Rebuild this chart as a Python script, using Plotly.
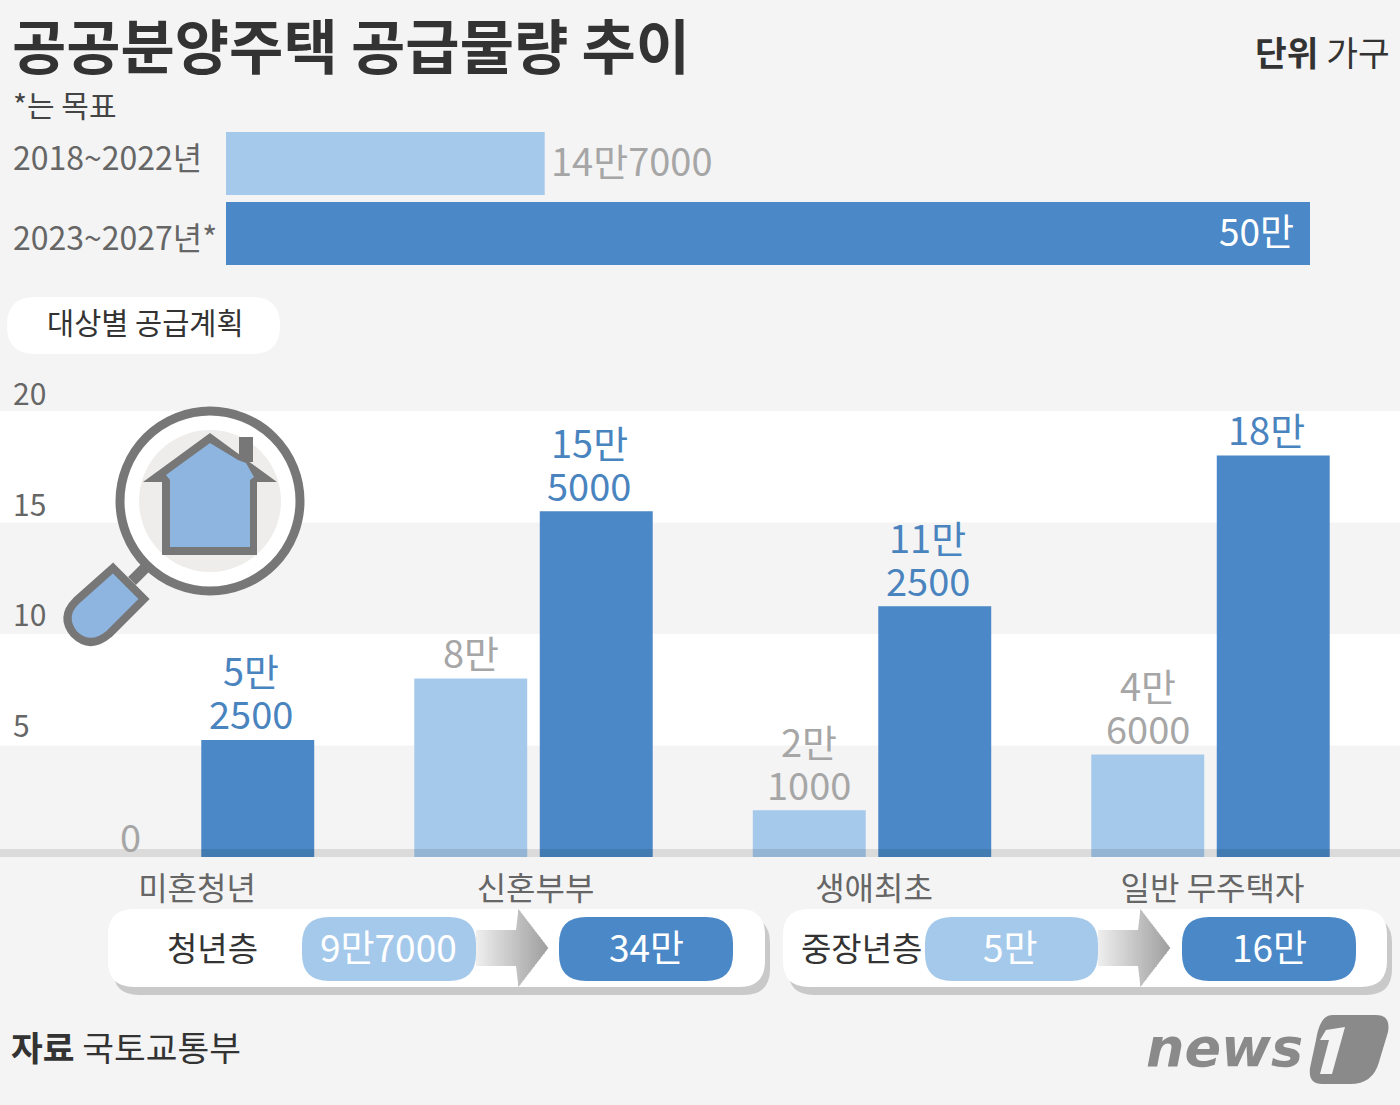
import plotly.graph_objects as go

# supply totals (households)
period_labels = ['2018~2022년', '2023~2027년*']
period_values = [147000, 500000]
period_text = ['14만7000', '50만']

# plan by target group (unit: 10 thousand households)
groups = ['미혼청년', '신혼부부', '생애최초', '일반 무주택자']
before_values = [None, 8, 2.1, 4.6]
plan_values = [5.25, 15.5, 11.25, 18]
before_text = [None, ['8만'], ['2만', '1000'], ['4만', '6000']]
plan_text = [['5만', '2500'], ['15만', '5000'], ['11만', '2500'], ['18만']]
y_ticks = [20, 15, 10, 5]
zero_tick = 0

# age-group boxes
box_names = ['청년층', '중장년층']
box_before = ['9만7000', '5만']
box_after = ['34만', '16만']

W, H = 1400, 1105
FONT = 'Noto Sans CJK KR'
LIGHT = '#a5c9eb'
DARK = '#4a88c7'
GREY_TEXT = '#a6a6a6'
BLUE_TEXT = '#4a84bf'
ICON_GREY = '#777777'
ICON_BLUE = '#8eb5e0'
BG = '#f4f4f4'

fig = go.Figure()

# top horizontal bars
fig.add_trace(go.Bar(
    y=period_labels, x=period_values, orientation='h', width=0.9,
    marker=dict(color=[LIGHT, DARK], line_width=0),
    xaxis='x', yaxis='y', hoverinfo='skip', showlegend=False
))

# lower grouped bars
fig.add_trace(go.Bar(
    x=groups, y=before_values, marker=dict(color=LIGHT, line_width=0),
    xaxis='x2', yaxis='y2', name='기존', showlegend=False, hoverinfo='skip'
))
fig.add_trace(go.Bar(
    x=groups, y=plan_values, marker=dict(color=DARK, line_width=0),
    xaxis='x2', yaxis='y2', name='계획', showlegend=False, hoverinfo='skip'
))

# invisible trace so the pixel-coordinate overlay axes exist
fig.add_trace(go.Scatter(x=[0], y=[0], mode='markers', opacity=0, xaxis='x3', yaxis='y3',
                         hoverinfo='skip', showlegend=False))

shapes = []
annotations = []


def text(x, y, s, size, color, anchor='left', bold=False):
    if bold:
        s = '<b>' + s + '</b>'
    annotations.append(dict(x=x, y=y, xref='x3', yref='y3', text=s, showarrow=False,
                            xanchor=anchor, yanchor='middle',
                            font=dict(family=FONT, size=size, color=color)))


def rrect(x0, y0, x1, y1, r, fill):
    p = (f'M {x0+r} {y0} L {x1-r} {y0} Q {x1} {y0} {x1} {y0+r} L {x1} {y1-r} Q {x1} {y1} {x1-r} {y1} '
         f'L {x0+r} {y1} Q {x0} {y1} {x0} {y1-r} L {x0} {y0+r} Q {x0} {y0} {x0+r} {y0} Z')
    shapes.append(dict(type='path', path=p, xref='x3', yref='y3', fillcolor=fill, line_width=0, layer='above'))


def poly(points, fill, line=None, lw=0):
    p = 'M ' + ' L '.join(f'{x} {y}' for x, y in points) + ' Z'
    shapes.append(dict(type='path', path=p, xref='x3', yref='y3', fillcolor=fill,
                       line=dict(color=line or fill, width=lw), layer='above'))


def circle(cx, cy, r, fill, line=None, lw=0):
    shapes.append(dict(type='circle', xref='x3', yref='y3', x0=cx-r, x1=cx+r, y0=cy-r, y1=cy+r,
                       fillcolor=fill, line=dict(color=line or fill, width=lw), layer='above'))


def arrow(x0):
    # grey gradient arrow made of thin strips
    shaft_end = x0 + 42
    tip = x0 + 72
    n = 36
    for i in range(n):
        a = x0 + (tip - x0) * i / n
        b = x0 + (tip - x0) * (i + 1) / n
        t = i / (n - 1)
        g = int(238 - 78 * t)
        col = f'rgb({g},{g},{g})'

        def half(v):
            if v < shaft_end:
                return 18
            return 39 * (tip - v) / (tip - shaft_end)
        poly([(a, 948 - half(a)), (b + 0.5, 948 - half(b)), (b + 0.5, 948 + half(b)), (a, 948 + half(a))], col)


# white bands behind the bars
for lo, hi in [(15, 20), (5, 10)]:
    shapes.append(dict(type='rect', xref='paper', yref='y2', x0=0, x1=1, y0=lo, y1=hi,
                       fillcolor='white', line_width=0, layer='below'))

# header text
text(10, 43, '공공분양주택 공급물량 추이', 59, '#333333', bold=True)
text(1392, 51, '<b>단위</b> 가구', 34.5, '#333333', anchor='right')
text(11, 104, '*는 목표', 30, '#444444')
text(11, 156, period_labels[0], 32, '#666666')
text(11, 236, period_labels[1], 32, '#666666')

# top bar values
annotations.append(dict(x=period_values[0], y=period_labels[0], xref='x', yref='y', text=period_text[0],
                        showarrow=False, xanchor='left', xshift=4, yshift=4,
                        font=dict(family=FONT, size=38, color=GREY_TEXT)))
annotations.append(dict(x=period_values[1], y=period_labels[1], xref='x', yref='y', text=period_text[1],
                        showarrow=False, xanchor='right', xshift=-14, yshift=4,
                        font=dict(family=FONT, size=37, color='white')))

# subtitle pill
rrect(7, 297, 280, 354, 28, 'white')
text(145, 321, '대상별 공급계획', 29.5, '#333333', anchor='center')

# y tick labels sit above their band edge, a little further up toward the bottom
for t in y_ticks:
    annotations.append(dict(x=0, y=t, xref='paper', yref='y2', text=str(t), showarrow=False,
                            xanchor='left', xshift=11, yshift=19 + (20 - t) * 0.2,
                            font=dict(family=FONT, size=30, color='#666666')))
annotations.append(dict(x=0, y=zero_tick, xref='paper', yref='y2', text=str(zero_tick), showarrow=False,
                        xanchor='left', xshift=118, yshift=22,
                        font=dict(family=FONT, size=38, color=GREY_TEXT)))

# value labels on the bars, one annotation per line
for i, g in enumerate(groups):
    for vals, labels, off, shift, col in [(before_values, before_text, -0.185, 0, GREY_TEXT),
                                          (plan_values, plan_text, 0.185, -7, BLUE_TEXT)]:
        if vals[i] is None:
            continue
        lines = labels[i]
        for k, s in enumerate(lines):
            up = 27 + 43 * (len(lines) - 1 - k)
            annotations.append(dict(x=i + off, y=vals[i], xref='x2', yref='y2', text=s, showarrow=False,
                                    xanchor='center', yanchor='middle', yshift=up, xshift=shift,
                                    font=dict(family=FONT, size=38, color=col)))

# baseline strip, darkens the bars too
shapes.append(dict(type='rect', xref='x3', yref='y3', x0=0, x1=W, y0=849, y1=857,
                   fillcolor='rgba(0,0,0,0.1)', line_width=0, layer='above'))

# magnifier icon
shapes.append(dict(type='line', xref='x3', yref='y3', x0=147, y0=566, x1=132, y1=581,
                   line=dict(color=ICON_GREY, width=11), layer='above'))
handle = 'M 113 568 L 144 599 L 109 634 Q 90 650 74 634 Q 60 617 76 601 Z'
shapes.append(dict(type='path', path=handle, xref='x3', yref='y3', fillcolor=ICON_BLUE,
                   line=dict(color=ICON_GREY, width=8), layer='above'))
circle(210, 501, 90, 'white', ICON_GREY, 9)
circle(210, 501, 71, '#eeedeb')
poly([(239, 437), (253, 437), (253, 462), (239, 462)], ICON_GREY)
poly([(210, 433), (277, 482), (257, 482), (257, 555), (162, 555), (162, 482), (143, 482)], ICON_GREY)
poly([(210, 443), (238, 460), (246, 463), (254, 477), (250, 480), (250, 547), (170, 547), (170, 480), (166, 475)],
     ICON_BLUE)

# age-group comparison boxes
boxes = [(108, 765, 302, 476, 559, 212), (783, 1387, 925, 1098, 1182, 861)]
for i, (bx0, bx1, p0, p1, q0, name_x) in enumerate(boxes):
    rrect(bx0 + 5, 917, bx1 + 5, 995, 26, '#c9c9c9')
    rrect(bx0, 909, bx1, 987, 26, 'white')
    arrow(p1)
    rrect(p0, 917, p1, 981, 27, LIGHT)
    rrect(q0, 917, q0 + 174, 981, 27, DARK)
    text(name_x, 947, box_names[i], 33, '#333333', anchor='center')
    text((p0 + p1) / 2 - 1, 946, box_before[i], 37, 'white', anchor='center')
    text(q0 + 87, 946, box_after[i], 37, 'white', anchor='center')

# footer
text(9, 1046, '<b>자료</b> 국토교통부', 34.5, '#333333')

# logo
annotations.append(dict(x=1305, y=1047, xref='x3', yref='y3', text='<b><i>news</i></b>', showarrow=False,
                        xanchor='right', yanchor='middle',
                        font=dict(family='DejaVu Sans', size=54, color='#8a8a8a')))
logo = ('M 1332 1015 L 1376 1015 Q 1391 1015 1388 1032 L 1379 1062 Q 1373 1084 1350 1084 L 1322 1084 '
        'Q 1308 1084 1310 1068 L 1316 1040 Q 1320 1015 1332 1015 Z')
shapes.append(dict(type='path', path=logo, xref='x3', yref='y3', fillcolor='#8a8a8a', line_width=0, layer='above'))
poly([(1326, 1030), (1345, 1027), (1332, 1074), (1320, 1074), (1329, 1040), (1320, 1040)], BG)

px_x = 1084 / period_values[1]
px_y = 22.3
px_cat = 338.5

fig.update_layout(
    width=W, height=H, autosize=False,
    margin=dict(l=0, r=0, t=0, b=0, pad=0),
    paper_bgcolor=BG, plot_bgcolor='rgba(0,0,0,0)',
    font=dict(family=FONT),
    barmode='group', bargap=0.2585, bargroupgap=0.1,
    shapes=shapes, annotations=annotations,
    xaxis=dict(range=[-226 / px_x, (W - 226) / px_x], domain=[0, 1], visible=False, anchor='y'),
    yaxis=dict(type='category', categoryorder='array', categoryarray=period_labels, range=[1.5, -0.5],
               domain=[1 - 268.5 / H, 1 - 128.5 / H], visible=False, anchor='x'),
    xaxis2=dict(type='category', categoryorder='array', categoryarray=groups,
                range=[-195 / px_cat, (W - 195) / px_cat], domain=[0, 1], anchor='y2',
                showgrid=False, showline=False, zeroline=False, ticks='', ticklabelstandoff=10,
                ticklabelshift=2, tickfont=dict(family=FONT, size=32, color='#666666')),
    yaxis2=dict(range=[0, 857 / px_y], domain=[1 - 857 / H, 1], anchor='x2', visible=False),
    xaxis3=dict(range=[0, W], domain=[0, 1], visible=False, anchor='y3'),
    yaxis3=dict(range=[H, 0], domain=[0, 1], visible=False, anchor='x3'),
)

fig.write_html('out.html', config=dict(displayModeBar=False),
               post_script="document.body.style.margin='0';document.documentElement.style.overflow='hidden';")
